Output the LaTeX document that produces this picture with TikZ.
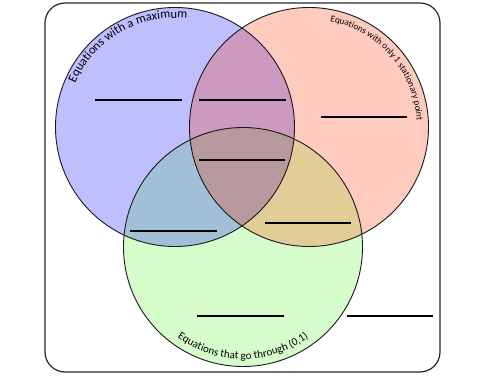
\documentclass[tikz,border=0pt]{standalone}
\usepackage{fontspec}
\setmainfont{Carlito}
\usetikzlibrary{decorations.text}
\definecolor{cB}{RGB}{191,191,255}
\definecolor{cR}{RGB}{255,203,191}
\definecolor{cG}{RGB}{215,252,204}
\definecolor{cBR}{RGB}{204,153,191}
\definecolor{cBG}{RGB}{161,191,214}
\definecolor{cRG}{RGB}{226,204,152}
\definecolor{cBRG}{RGB}{184,153,158}
\begin{document}
\begin{tikzpicture}[x=1pt,y=1pt,
  blank/.style={line width=1.6pt, draw=black},
  ring/.style={line width=0.9pt, draw=black!90},
  frame/.style={line width=1.2pt, draw=black!85, rounded corners=20pt},
  curvedlabel/.style={decorate, decoration={text along path, text align=center, text={#1}}}]
\useasboundingbox (0,0) rectangle (500,375);
\def\rr{119.5pt}
\coordinate (B) at (175,248);
\coordinate (R) at (309,248);
\coordinate (G) at (243,128);
% frame
\draw[frame] (45,3) rectangle (440,372);
% single fills
\fill[cB] (B) circle[radius=\rr];
\fill[cR] (R) circle[radius=\rr];
\fill[cG] (G) circle[radius=\rr];
% pair fills
\begin{scope}
  \clip (B) circle[radius=\rr];
  \fill[cBR] (R) circle[radius=\rr];
  \fill[cBG] (G) circle[radius=\rr];
  \begin{scope}
    \clip (R) circle[radius=\rr];
    \fill[cBRG] (G) circle[radius=\rr];
  \end{scope}
\end{scope}
\begin{scope}
  \clip (R) circle[radius=\rr];
  \fill[cRG] (G) circle[radius=\rr];
  \clip (B) circle[radius=\rr];
  \fill[cBRG] (G) circle[radius=\rr];
\end{scope}
% outlines
\draw[ring] (B) circle[radius=\rr];
\draw[ring] (R) circle[radius=\rr];
\draw[ring] (G) circle[radius=\rr];
% curved labels
\path[shift={(B)}, curvedlabel={|\fontsize{12.5}{14}\selectfont|Equations with a maximum}]
  (178:109pt) arc[start angle=178, end angle=62, radius=109pt];
\path[shift={(R)}, curvedlabel={|\fontsize{9.2}{11}\selectfont|Equations with only 1 stationary point}]
  (102:108pt) arc[start angle=102, end angle=-20, radius=108pt];
\path[shift={(G)}, curvedlabel={|\fontsize{11}{13}\selectfont|Equations that go through (0,1)}]
  (-148:112pt) arc[start angle=-148, end angle=-32, radius=112pt];
% answer blanks
\coordinate (b1) at (95,275);  \coordinate (b1e) at (182,275);
\coordinate (b2) at (199,275); \coordinate (b2e) at (286,275);
\coordinate (b3) at (321,258); \coordinate (b3e) at (407,258);
\coordinate (b4) at (199,215); \coordinate (b4e) at (285,215);
\coordinate (b5) at (130,144); \coordinate (b5e) at (217,144);
\coordinate (b6) at (265,152); \coordinate (b6e) at (351,152);
\coordinate (b7) at (197,59);  \coordinate (b7e) at (284,59);
\coordinate (b8) at (347,59);  \coordinate (b8e) at (433,59);
\foreach \i in {1,...,8} \draw[blank] (b\i) -- (b\i e);
\end{tikzpicture}
\end{document}
